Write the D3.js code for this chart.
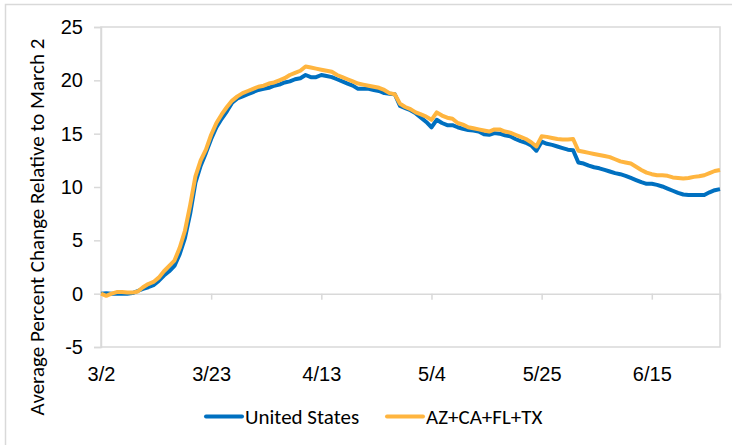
<!DOCTYPE html>
<html>
<head>
<meta charset="utf-8">
<script src="https://cdn.jsdelivr.net/npm/d3@7"></script>
<style>
  body { margin: 0; background: #fff; }
  svg { display: block; font-family: Carlito, Lato, "Open Sans", sans-serif; }
</style>
</head>
<body>
<svg id="chart" width="732" height="445"></svg>
<script>
// daily values, 3/2 .. 6/28
var startDate = new Date(Date.UTC(2020, 2, 2));
var usValues = [
  0.0, 0.05, 0.0, 0.0, 0.0, 0.0, 0.05, 0.25, 0.45, 0.6,
  0.8, 1.2, 1.7, 2.1, 2.6, 3.7, 5.2, 7.5, 10.4, 12.0,
  13.2, 14.5, 15.6, 16.4, 17.1, 17.9, 18.3, 18.5, 18.7, 18.9,
  19.1, 19.2, 19.3, 19.5, 19.6, 19.8, 19.9, 20.1, 20.2, 20.5,
  20.3, 20.3, 20.5, 20.4, 20.3, 20.1, 19.9, 19.7, 19.5, 19.2,
  19.2, 19.2, 19.1, 19.0, 18.8, 18.75, 18.7, 17.6, 17.4, 17.2,
  16.9, 16.5, 16.1, 15.6, 16.3, 16.0, 15.8, 15.8, 15.6, 15.45,
  15.35, 15.3, 15.2, 14.95, 14.9, 15.05, 15.0, 14.85, 14.75, 14.5,
  14.3, 14.15, 13.9, 13.4, 14.25, 14.05, 13.95, 13.8, 13.65, 13.5,
  13.45, 12.3, 12.2, 12.0, 11.85, 11.75, 11.6, 11.45, 11.3, 11.2,
  11.05, 10.85, 10.65, 10.45, 10.3, 10.3, 10.2, 10.05, 9.85, 9.65,
  9.45, 9.3, 9.25, 9.25, 9.25, 9.25, 9.5, 9.7, 9.8
];
var stateValues = [
  0.0, -0.2, 0.0, 0.15, 0.15, 0.1, 0.1, 0.2, 0.6, 0.9,
  1.1, 1.5, 2.1, 2.6, 3.1, 4.3, 5.9, 8.3, 11.0, 12.5,
  13.5, 14.9, 16.0, 16.8, 17.5, 18.1, 18.5, 18.8, 19.0, 19.2,
  19.4, 19.5, 19.7, 19.8, 20.0, 20.2, 20.5, 20.7, 20.9, 21.3,
  21.2, 21.1, 21.0, 20.9, 20.8, 20.5, 20.3, 20.1, 19.9, 19.7,
  19.6, 19.5, 19.4, 19.3, 19.1, 18.8, 18.7, 17.8, 17.5, 17.3,
  17.0, 16.8, 16.6, 16.3, 17.0, 16.7, 16.5, 16.4, 16.0, 15.85,
  15.6, 15.5, 15.4, 15.3, 15.2, 15.4, 15.4, 15.2, 15.1, 14.9,
  14.7, 14.5, 14.2, 13.8, 14.75, 14.7, 14.6, 14.5, 14.45, 14.45,
  14.5, 13.4, 13.3, 13.2, 13.1, 13.0, 12.9, 12.8, 12.6, 12.4,
  12.3, 12.2, 11.9, 11.6, 11.35, 11.2, 11.1, 11.1, 11.05, 10.9,
  10.85, 10.8, 10.85, 10.95, 11.0, 11.1, 11.3, 11.5, 11.6
];
var seriesNames = ["United States", "AZ+CA+FL+TX"];
var seriesColors = ["#0070c0", "#ffb53f"];
var xTickLabels = ["3/2", "3/23", "4/13", "5/4", "5/25", "6/15"];
var yTicks = [-5, 0, 5, 10, 15, 20, 25];
var yTitle = "Average Percent Change Relative to March 2";

var svg = d3.select("#chart"),
    margin = {top: 27, right: 12, bottom: 98, left: 101},
    width = 720 - margin.left,
    height = 347 - margin.top,
    grid = "#d9d9d9";

var dates = usValues.map(function(v, i) { return d3.utcDay.offset(startDate, i); });
var xTickDates = xTickLabels.map(function(s) {
  var p = s.split("/");
  return new Date(Date.UTC(2020, +p[0] - 1, +p[1]));
});

// outer chart frame
svg.append("rect")
  .attr("x", 5.5).attr("y", 4.5)
  .attr("width", 760).attr("height", 460)
  .attr("fill", "none").attr("stroke", grid).attr("stroke-width", 1.5);

var g = svg.append("g").attr("transform", "translate(" + margin.left + "," + margin.top + ")");

var x = d3.scaleUtc().domain([startDate, dates[dates.length - 1]]).range([0, width]);
var y = d3.scaleLinear().domain([-5, 25]).range([height, 0]);

// plot area border
g.append("rect")
  .attr("width", width).attr("height", height)
  .attr("fill", "none").attr("stroke", grid).attr("stroke-width", 1.5);

// y axis
g.append("g")
  .attr("class", "axis axis--y")
  .call(d3.axisLeft(y).tickValues(yTicks).tickSize(7).tickPadding(11)
    .tickFormat(function(d) { return String(d); }))
  .call(function(a) {
    a.select(".domain").attr("stroke", grid).attr("stroke-width", 1.5);
    a.selectAll(".tick line").attr("stroke", grid).attr("stroke-width", 1.5);
    a.selectAll(".tick text").attr("fill", "#000").attr("font-size", 20).attr("font-family", null);
  });

// x axis crosses at 0, labels sit low
var xAxis = g.append("g")
  .attr("class", "axis axis--x")
  .attr("transform", "translate(0," + y(0) + ")")
  .call(d3.axisBottom(x).tickValues(xTickDates).tickSize(6).tickFormat(function(d, i) { return xTickLabels[i]; }));
xAxis.select(".domain").attr("stroke", grid).attr("stroke-width", 1.5);
xAxis.selectAll(".tick line").attr("stroke", grid).attr("stroke-width", 1.5);
xAxis.selectAll(".tick text")
  .attr("fill", "#000").attr("font-size", 20).attr("font-family", null)
  .attr("y", height - y(0) + 34).attr("dy", null);

// y title
svg.append("text")
  .attr("transform", "translate(44," + 227 + ") rotate(-90)")
  .attr("text-anchor", "middle")
  .attr("font-size", 21)
  .attr("fill", "#000")
  .text(yTitle);

var line = d3.line()
  .x(function(d, i) { return x(dates[i]); })
  .y(function(d) { return y(d); });

[usValues, stateValues].forEach(function(vals, k) {
  g.append("path")
    .attr("class", "line")
    .attr("d", line(vals))
    .attr("fill", "none")
    .attr("stroke", seriesColors[k])
    .attr("stroke-width", 4)
    .attr("stroke-linejoin", "round");
});

// legend
var legendX = [206, 387];
var legend = svg.append("g").attr("class", "legend");
seriesNames.forEach(function(name, k) {
  legend.append("line")
    .attr("x1", legendX[k]).attr("x2", legendX[k] + 36)
    .attr("y1", 416.5).attr("y2", 416.5)
    .attr("stroke", seriesColors[k]).attr("stroke-width", 4)
    .attr("stroke-linecap", "round");
  legend.append("text")
    .attr("x", legendX[k] + 39).attr("y", 423.5)
    .attr("font-size", 21).attr("fill", "#000")
    .text(name);
});
</script>
</body>
</html>
